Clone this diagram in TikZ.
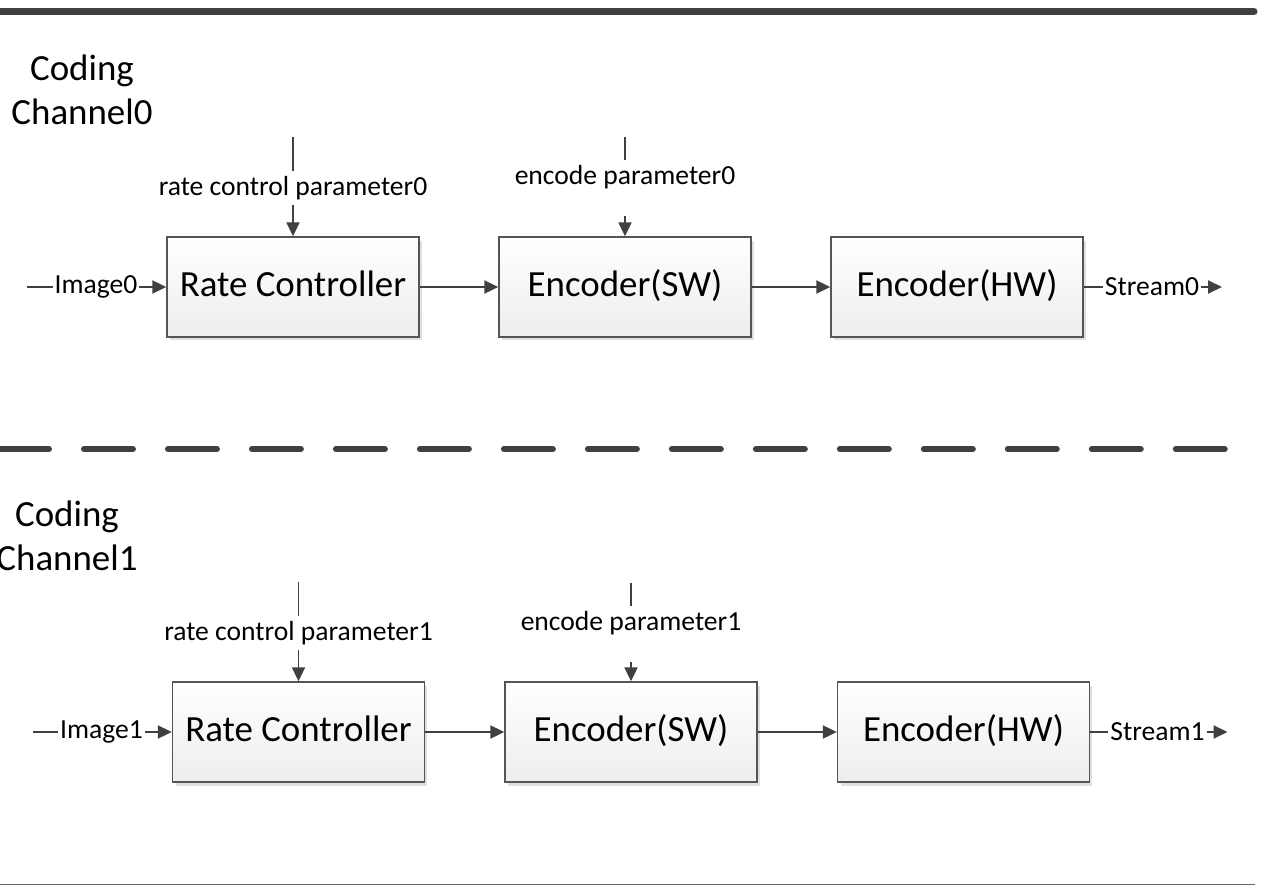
\documentclass[tikz,border=0pt]{standalone}
\usepackage{fontspec}
\setmainfont{Carlito}
\usetikzlibrary{arrows.meta,shadows}
\definecolor{ink}{HTML}{404040}
\definecolor{boxline}{HTML}{555555}

\begin{document}
\begin{tikzpicture}[x=0.02cm,y=-0.02cm,
  >={Triangle[length=0.28cm,width=0.26cm]},
  conn/.style={draw=ink,line width=1.1pt},
  block/.style={draw=boxline,line width=0.8pt,top color=white,bottom color=black!7,
    minimum width=5.04cm,minimum height=2cm,font=\fontsize{21}{25}\selectfont,
    text height=15pt,text depth=3.7pt,
    drop shadow={shadow xshift=0.06cm,shadow yshift=-0.07cm,fill=black!12,opacity=1}},
  param/.style={font=\fontsize{15.7}{19}\selectfont,inner xsep=1pt,inner ysep=3pt},
  title/.style={font=\fontsize{21}{25}\selectfont,align=center}]
\useasboundingbox (0,0) rectangle (1261,886);

% separators
\draw[ink,line width=0.14cm,line cap=round] (-5,11.5) -- (1254,11.5);
\draw[ink,line width=0.12cm,line cap=round,dash pattern=on 0.98cm off 0.7cm] (0,449) -- (1229,449);
\draw[black!60,line width=0.8pt] (0,884.5) -- (1255,884.5);

% channel 0
\node[title] (ch0) at (82,90) {Coding\\Channel0};
\node[block] (rc0) at (293,287) {Rate Controller};
\node[block] (sw0) at (625,287) {Encoder(SW)};
\node[block] (hw0) at (957,287) {Encoder(HW)};
\node[param] (rcp0) at (293,188) {rate control parameter0};
\node[param] (swp0) at (625,177) {encode parameter0};
\node[param] (img0) at (96,287) {Image0};
\node[param] (str0) at (1152,287) {Stream0};
\coordinate (rcp0top) at (293,137);
\coordinate (swp0top) at (625,137);
\coordinate (img0in) at (27,287);
\coordinate (str0out) at (1222,287);

\draw[conn] (rcp0top) -- (rcp0);
\draw[conn,->] (rcp0) -- (rc0);
\draw[conn] (swp0top) -- (swp0);
\draw[conn,->,shorten <=0.44cm] (swp0) -- (sw0);
\draw[conn] (img0in) -- (img0);
\draw[conn,->] (img0) -- (rc0);
\draw[conn,->] (rc0) -- (sw0);
\draw[conn,->] (sw0) -- (hw0);
\draw[conn] (hw0) -- (str0);
\draw[conn,->] (str0) -- (str0out);

% channel 1
\node[title] (ch1) at (67,536) {Coding\\Channel1};
\node[block] (rc1) at (298.5,732) {Rate Controller};
\node[block] (sw1) at (631,732) {Encoder(SW)};
\node[block] (hw1) at (963.5,732) {Encoder(HW)};
\node[param] (rcp1) at (298.5,633) {rate control parameter1};
\node[param] (swp1) at (631,623) {encode parameter1};
\node[param] (img1) at (101.5,732) {Image1};
\node[param] (str1) at (1157.5,732) {Stream1};
\coordinate (rcp1top) at (298.5,582);
\coordinate (swp1top) at (631,583);
\coordinate (img1in) at (32.5,732);
\coordinate (str1out) at (1227.5,732);

\draw[conn] (rcp1top) -- (rcp1);
\draw[conn,->] (rcp1) -- (rc1);
\draw[conn] (swp1top) -- (swp1);
\draw[conn,->,shorten <=0.44cm] (swp1) -- (sw1);
\draw[conn] (img1in) -- (img1);
\draw[conn,->] (img1) -- (rc1);
\draw[conn,->] (rc1) -- (sw1);
\draw[conn,->] (sw1) -- (hw1);
\draw[conn] (hw1) -- (str1);
\draw[conn,->] (str1) -- (str1out);
\end{tikzpicture}
\end{document}
